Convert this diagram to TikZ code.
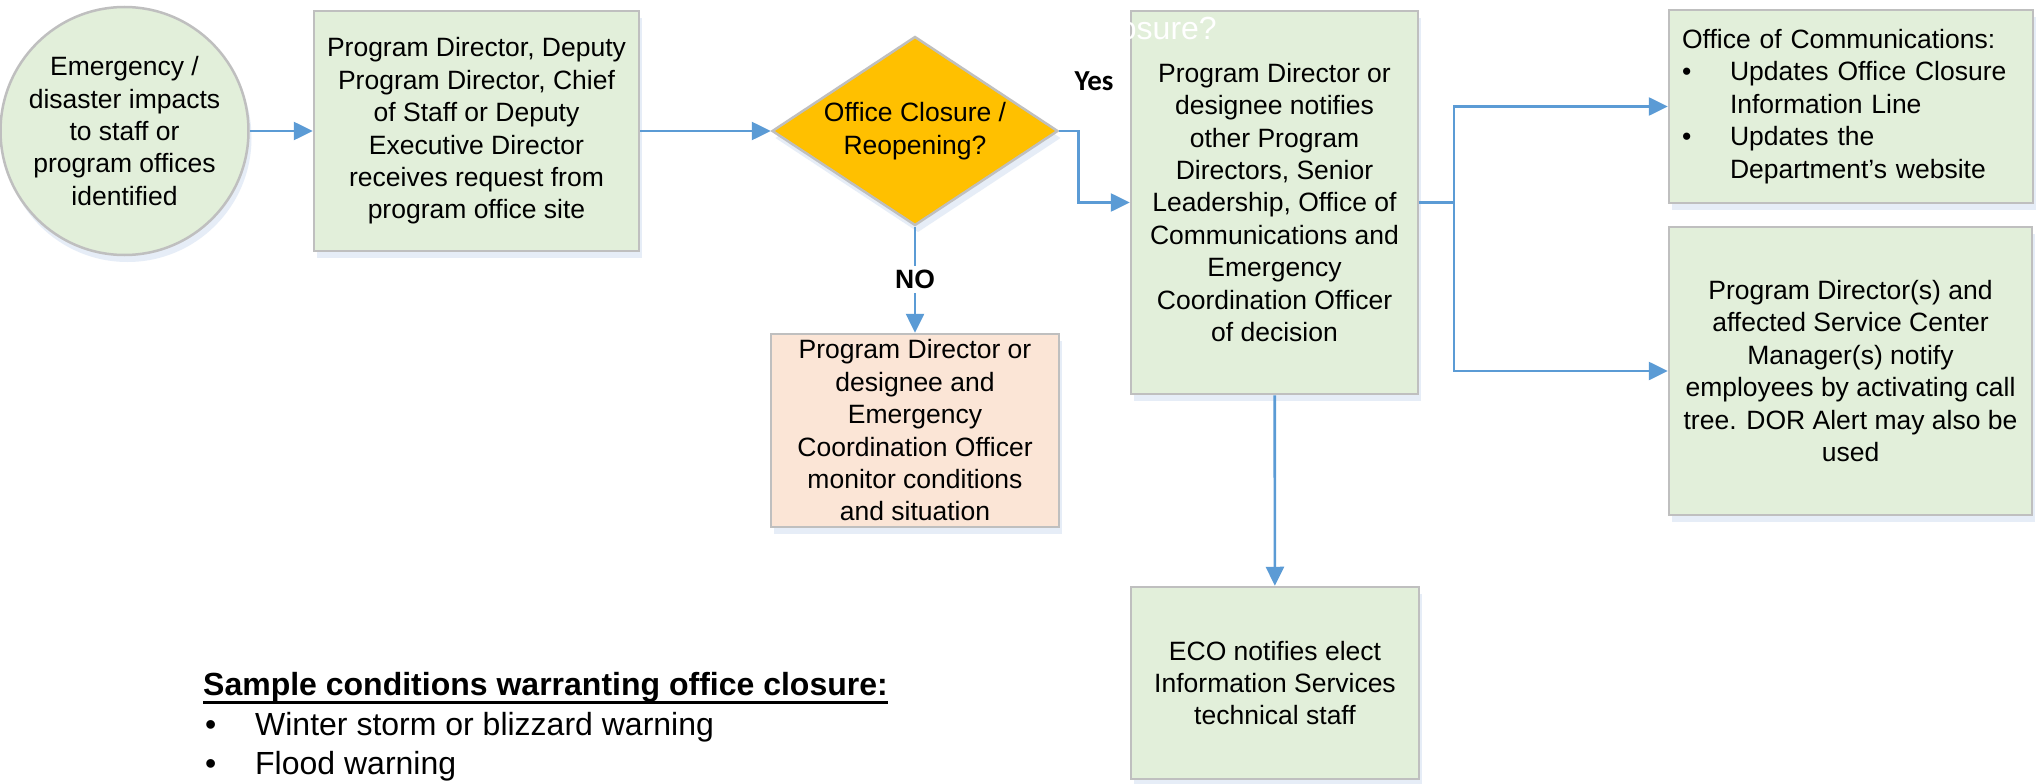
\documentclass[tikz,border=0pt]{standalone}
\usepackage{fontspec}
\setmainfont{Liberation Sans}
\newfontfamily\yesfont{Carlito}
\usetikzlibrary{shapes.geometric,arrows.meta,shadows}
\definecolor{boxgreen}{HTML}{E2EFDA}
\definecolor{boxpeach}{HTML}{FBE5D6}
\definecolor{gold}{HTML}{FFC000}
\definecolor{bordergray}{HTML}{BFBFBF}
\definecolor{connblue}{HTML}{5B9BD5}
\definecolor{shadowblue}{HTML}{E6EDF7}
\newcommand{\myul}[1]{\setbox0=\hbox{#1}\rlap{\vrule height -6pt depth 8.6pt width \wd0}\box0}
\begin{document}
\begin{tikzpicture}[x=1pt,y=-1pt,
  every node/.style={font=\fontsize{26.5}{32.4}\selectfont, text=black},
  shapebase/.style={draw=bordergray, line width=2.5pt,
    drop shadow={shadow xshift=3pt, shadow yshift=-7pt, fill=shadowblue, draw=none, opacity=1}},
  gbox/.style={shapebase, rectangle, fill=boxgreen, align=center, inner sep=0pt},
  pbox/.style={shapebase, rectangle, fill=boxpeach, align=center, inner sep=0pt},
  circ/.style={shapebase, circle, fill=boxgreen, align=center, inner sep=0pt, minimum size=248pt},
  dia/.style={shapebase, diamond, fill=gold, align=center, inner sep=0pt, aspect=1.51,
    minimum width=286pt, minimum height=189pt},
  arr/.style={draw=connblue, line width=2.6pt, -{Triangle[length=19pt,width=18pt]}},
  plain/.style={draw=connblue, line width=2.6pt},
]
\fill[white] (0,0) rectangle (2038,784);
\useasboundingbox (0,0) rectangle (2038,784);

\node[circ] (c) at (124.5,131) {Emergency /\\disaster impacts\\to staff or\\program offices\\identified};

\node[gbox, minimum width=325pt, minimum height=240pt] (b2) at (476.5,131)
  {Program Director, Deputy\\Program Director, Chief\\of Staff or Deputy\\Executive Director\\receives request from\\program office site};

\node[dia] (d) at (915,131) {Office Closure /\\Reopening?};

\node[pbox, minimum width=288pt, minimum height=193pt] (no) at (915,430.5)
  {Program Director or\\designee and\\Emergency\\Coordination Officer\\monitor conditions\\and situation};

\node[gbox, minimum width=287pt, minimum height=383pt] (cb) at (1274.5,202.5)
  {Program Director or\\designee notifies\\other Program\\Directors, Senior\\Leadership, Office of\\Communications and\\Emergency\\Coordination Officer\\of decision};

\node[font=\fontsize{32}{38}\selectfont, text=white, anchor=base east, inner sep=0pt] (ghost) at (1217,40) {Closure?};

\node[gbox, minimum width=364pt, minimum height=193pt, align=left, text width=338pt] (r1) at (1851,106.5)
  {Office of Communications:\\
   \makebox[48pt][l]{•}Updates Office Closure\\
   \hspace*{48pt}Information Line\\
   \makebox[48pt][l]{•}Updates the\\
   \hspace*{48pt}Department’s website};

\node[gbox, minimum width=363pt, minimum height=288pt] (r2) at (1850.5,371)
  {Program Director(s) and\\affected Service Center\\Manager(s) notify\\employees by activating call\\tree. DOR Alert may also be\\used};

\node[gbox, minimum width=288pt, minimum height=192pt] (e) at (1275,683)
  {ECO notifies elect\\Information Services\\technical staff};

\node[font=\yesfont\bfseries\fontsize{29}{34}\selectfont] (yes) at (1094,81) {Yes};

% connectors
\draw[arr] (c) -- (b2);
\draw[arr] (b2) -- (d);
\draw[arr] (d.south) -- node[fill=white, font=\bfseries\fontsize{26.5}{32}\selectfont, inner sep=4pt] (nolab) {NO} (no.north);
\draw[arr] (d.east) -- ++(19,0) |- (cb.west);
\coordinate (fork) at (1454,202.5);
\draw[plain] (cb.east) -- (fork);
\draw[arr] (fork) |- (r1.west);
\draw[arr] (fork) |- (r2.west);
\draw[arr] (cb) -- (e);

% sample conditions
\node[font=\bfseries\fontsize{32}{38}\selectfont, anchor=base west, inner sep=0pt] (head) at (203,695)
  {\myul{Sample conditions warranting office closure:}};
\node[font=\fontsize{32}{38}\selectfont, anchor=base west, inner sep=0pt] (s1) at (203,735)
  {\makebox[52pt][l]{\hspace{2pt}•}Winter storm or blizzard warning};
\node[font=\fontsize{32}{38}\selectfont, anchor=base west, inner sep=0pt] (s2) at (203,774)
  {\makebox[52pt][l]{\hspace{2pt}•}Flood warning};
\end{tikzpicture}
\end{document}
